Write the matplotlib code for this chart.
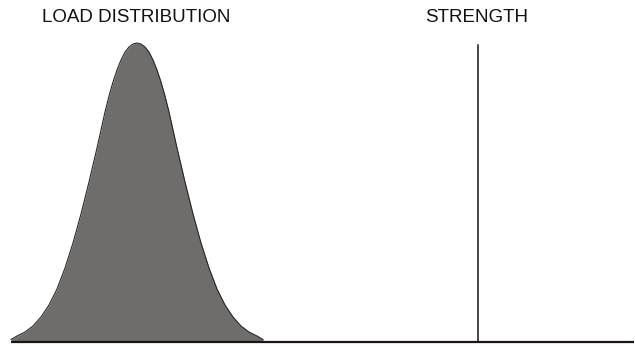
"""Load vs strength sketch: bell-shaped load distribution and a fixed strength line."""

import matplotlib
matplotlib.use("Agg")
import matplotlib.pyplot as plt

# ─── Data (load units, arbitrary) ───
load_x = [11, 17, 25, 33, 41, 49, 57, 65, 73, 81, 89, 97, 105, 109, 113, 117, 121, 125, 129, 133,
          137, 141, 145, 149, 153, 157, 161, 165, 169, 177, 185, 193, 201, 209, 217, 225,
          233, 241, 249, 257, 263]
load_density = [2.5, 6, 10, 16, 25, 37, 53, 74, 99, 128, 160, 194, 230, 246, 260, 272, 282, 290, 295, 298,
                299, 298, 295, 290, 282, 272, 260, 246, 230, 194, 160, 128, 99, 74, 53, 37,
                25, 16, 10, 6, 2.5]
strength_x = 478
strength_top = 297
axis_range = [11, 634]

labels = ["LOAD DISTRIBUTION", "STRENGTH"]
label_x = [136, 477]
label_y = 325

FILL = '#6e6d6b'
EDGE = '#2a2626'
INK = '#1a1414'

fig = plt.figure(figsize=(6.35, 3.47), dpi=100)
ax = fig.add_axes([0, 0, 1, 1])
ax.set_xlim(0, 635)
ax.set_ylim(-5, 342)
ax.axis('off')

# load distribution
ax.fill_between(load_x, 0, load_density, color=FILL, linewidth=0)
ax.plot(load_x, load_density, color=EDGE, linewidth=0.8)

# strength line and baseline
ax.plot([strength_x, strength_x], [0, strength_top], color=INK, linewidth=1.1)
ax.plot(axis_range, [0, 0], color=INK, linewidth=1.6, solid_capstyle='butt')

for txt, x in zip(labels, label_x):
    ax.text(x, label_y, txt, ha='center', va='center', fontsize=13.5,
            family='Liberation Sans', color='#111111')

fig.savefig('out.png', dpi=100)
